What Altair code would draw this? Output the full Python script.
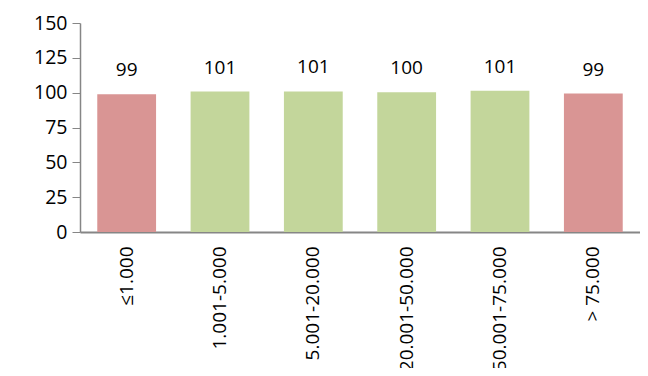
import altair as alt
import pandas as pd

categories = ["≤1.000", "1.001-5.000", "5.001-20.000", "20.001-50.000", "50.001-75.000", "> 75.000"]
values = [98.8, 100.8, 100.9, 100.3, 101.4, 99.4]
groups = ["low", "ok", "ok", "ok", "ok", "low"]

df = pd.DataFrame({"cat": categories, "val": values, "grp": groups})
df["lbl"] = [str(round(v)) for v in values]

FONT = "Open Sans"

base = alt.Chart(df).encode(
    x=alt.X("cat:N", sort=categories, title=None,
            scale=alt.Scale(paddingInner=0.37, paddingOuter=0.185),
            axis=alt.Axis(labelAngle=-90, labelFontSize=19, labelFont=FONT, labelColor="#000000",
                          ticks=False, domainColor="#868686", domainWidth=2, labelPadding=14,
                          labelAlign="right", labelBaseline="middle", labelOverlap=False)),
    y=alt.Y("val:Q", title=None,
            scale=alt.Scale(domain=[0, 150]),
            axis=alt.Axis(values=[0, 25, 50, 75, 100, 125, 150], grid=False, labelFontSize=19.5,
                          labelFont=FONT, labelColor="#000000", domainColor="#868686",
                          tickColor="#868686", tickSize=8, labelPadding=5, domainWidth=1.5)),
)

bars = base.mark_bar().encode(
    color=alt.Color("grp:N", scale=alt.Scale(domain=["low", "ok"], range=["#D99594", "#C3D69B"]), legend=None)
)
text = base.mark_text(dy=-24, fontSize=19, font=FONT, color="#000000").encode(text="lbl:N")

chart = (bars + text).properties(
    width=560, height=209,
    autosize=alt.AutoSizeParams(type="none"),
    padding={"left": 72, "top": 15, "right": 0, "bottom": 136},
).configure_view(stroke=None)

chart.save("out.html", embed_options={"renderer": "svg", "actions": False})
